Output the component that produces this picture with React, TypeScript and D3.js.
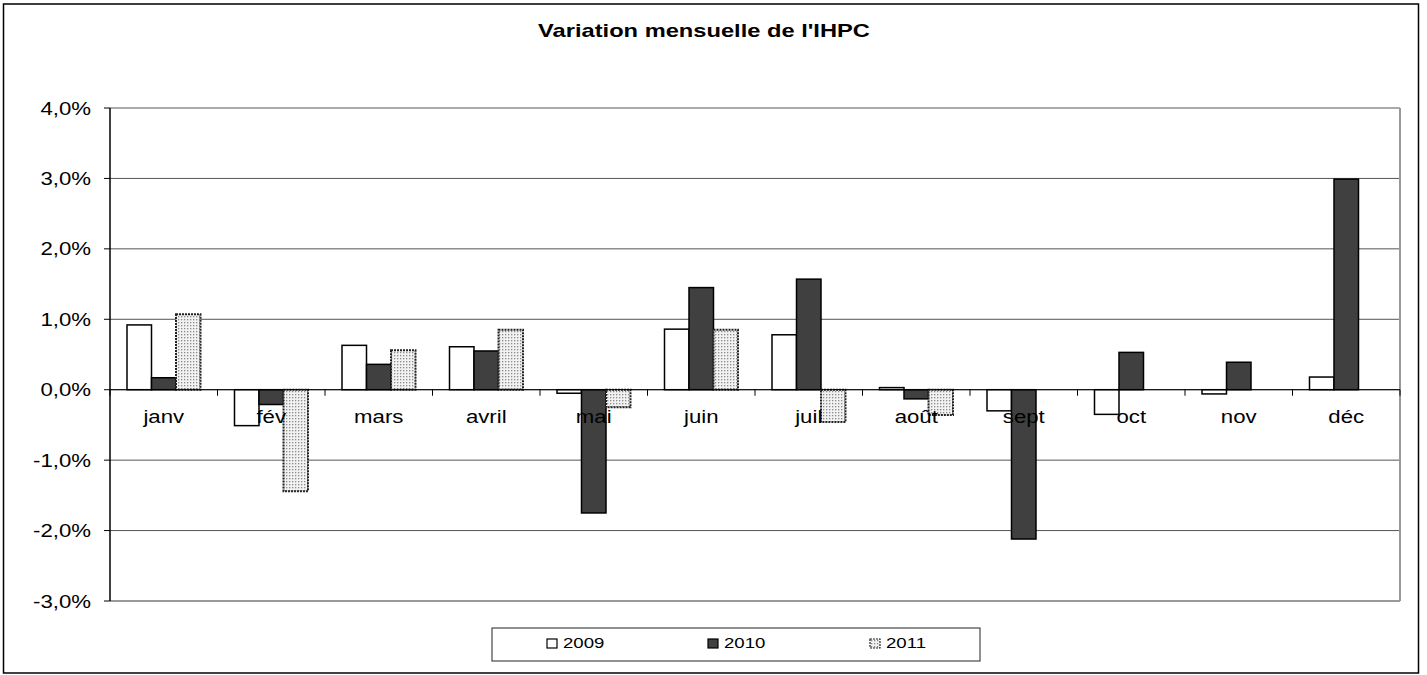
import { useMemo } from 'react';
import * as d3 from 'd3';

// monthly change of the HICP, in %
const months = ['janv', 'fév', 'mars', 'avril', 'mai', 'juin', 'juil', 'août', 'sept', 'oct', 'nov', 'déc'];
const years = ['2009', '2010', '2011'];
const v2009 = [0.92, -0.51, 0.63, 0.61, -0.05, 0.86, 0.78, 0.03, -0.30, -0.35, -0.06, 0.18];
const v2010 = [0.17, -0.21, 0.36, 0.55, -1.75, 1.45, 1.57, -0.13, -2.12, 0.53, 0.39, 2.99];
const v2011 = [1.07, -1.44, 0.56, 0.85, -0.25, 0.85, -0.46, -0.36, null, null, null, null];
const yTicks = [4, 3, 2, 1, 0, -1, -2, -3];

const W = 1427;
const H = 675;
const SX = 1.2; // the source picture is stretched horizontally
const FONT = '"Liberation Sans", Arial, sans-serif';

const STYLE: Record<string, { fill: string; stroke: string; dash?: string }> = {
  '2009': { fill: '#ffffff', stroke: '#000' },
  '2010': { fill: '#404040', stroke: '#000' },
  '2011': { fill: 'url(#dots)', stroke: '#222', dash: '2 1' },
};

function SText({ x, y, anchor = 'start', size = 18.5, bold = false, sx = SX, children }: any) {
  return (
    <text
      transform={`translate(${x},${y}) scale(${sx},1)`}
      textAnchor={anchor}
      fontFamily={FONT}
      fontSize={size}
      fontWeight={bold ? 'bold' : 'normal'}
      fill="#000"
    >
      {children}
    </text>
  );
}

const pct = (t: number) => t.toFixed(1).replace('.', ',') + '%';

export default function App() {
  const left = 110, right = 1400, top = 108, bottom = 601;

  const x0 = useMemo(() => d3.scaleBand<string>().domain(months).range([left, right]), []);
  const x1 = useMemo(
    () => d3.scaleBand<string>().domain(years).range([0, x0.bandwidth()]).paddingInner(0).paddingOuter(0.694),
    [x0]
  );
  const y = useMemo(() => d3.scaleLinear().domain([-3, 4]).range([bottom, top]), []);

  const series = [v2009, v2010, v2011];
  const bars = months.flatMap((m, i) =>
    years.map((yr, j) => ({ m, yr, v: series[j][i] })).filter(d => d.v !== null)
  ) as { m: string; yr: string; v: number }[];

  const legendItems = [
    { yr: '2009', x: 547 },
    { yr: '2010', x: 708 },
    { yr: '2011', x: 870 },
  ];

  return (
    <svg width={W} height={H} style={{ position: 'absolute', left: 0, top: 0, background: '#fff' }}>
      <defs>
        <pattern id="dots" width="3" height="3" patternUnits="userSpaceOnUse">
          <rect width="3" height="3" fill="#f2f2f2" />
          <rect x="1" y="1" width="1.3" height="1.3" fill="#8a8a8a" />
        </pattern>
      </defs>

      {/* chart border */}
      <rect x={3.5} y={4} width={1415} height={669} fill="#fff" stroke="#000" strokeWidth={1.5} />

      <SText x={704} y={37} anchor="middle" size={18.5} bold sx={1.28}>
        Variation mensuelle de l'IHPC
      </SText>

      {/* gridlines */}
      {yTicks.map(t => (
        <line key={t} x1={left} x2={right} y1={y(t)} y2={y(t)} stroke="#555" strokeWidth={1} />
      ))}
      {/* plot area border right / bottom */}
      <line x1={right} x2={right} y1={top} y2={bottom} stroke="#999" strokeWidth={2} />
      <line x1={left} x2={right} y1={bottom} y2={bottom} stroke="#999" strokeWidth={2} />

      {/* y axis */}
      <line x1={left} x2={left} y1={top} y2={bottom} stroke="#000" strokeWidth={1.5} />
      {yTicks.map(t => (
        <g key={t}>
          <line x1={left - 6} x2={left} y1={y(t)} y2={y(t)} stroke="#000" />
          <SText x={91} y={y(t) + 6.5} anchor="end">
            {pct(t)}
          </SText>
        </g>
      ))}

      {/* category ticks on the zero line */}
      {months.map(m => (
        <line key={m} x1={x0(m)!} x2={x0(m)!} y1={y(0)} y2={y(0) + 6} stroke="#000" />
      ))}
      <line x1={right} x2={right} y1={y(0)} y2={y(0) + 6} stroke="#000" />

      {/* bars */}
      {bars.map(d => {
        const s = STYLE[d.yr];
        const bx = x0(d.m)! + x1(d.yr)!;
        const y0 = y(0);
        const yv = y(d.v);
        return (
          <rect
            key={d.m + d.yr}
            x={bx}
            y={Math.min(y0, yv)}
            width={x1.bandwidth()}
            height={Math.max(1, Math.abs(yv - y0))}
            fill={s.fill}
            stroke={s.stroke}
            strokeWidth={d.yr === '2011' ? 2 : 1.5}
            strokeDasharray={s.dash}
          />
        );
      })}

      {/* zero axis */}
      <line x1={left} x2={right} y1={y(0)} y2={y(0)} stroke="#000" strokeWidth={1} />

      {/* category labels */}
      {months.map(m => (
        <SText key={m} x={x0(m)! + x0.bandwidth() / 2} y={y(0) + 33} anchor="middle">
          {m}
        </SText>
      ))}

      {/* legend */}
      <rect x={492} y={628} width={488} height={33} fill="#fff" stroke="#222" strokeWidth={1} />
      {legendItems.map(it => (
        <g key={it.yr}>
          <rect
            x={it.x}
            y={639}
            width={10}
            height={9}
            fill={STYLE[it.yr].fill}
            stroke={STYLE[it.yr].stroke}
            strokeWidth={1.2}
            strokeDasharray={STYLE[it.yr].dash}
          />
          <SText x={it.x + 16} y={648} size={15.5}>
            {it.yr}
          </SText>
        </g>
      ))}
    </svg>
  );
}
